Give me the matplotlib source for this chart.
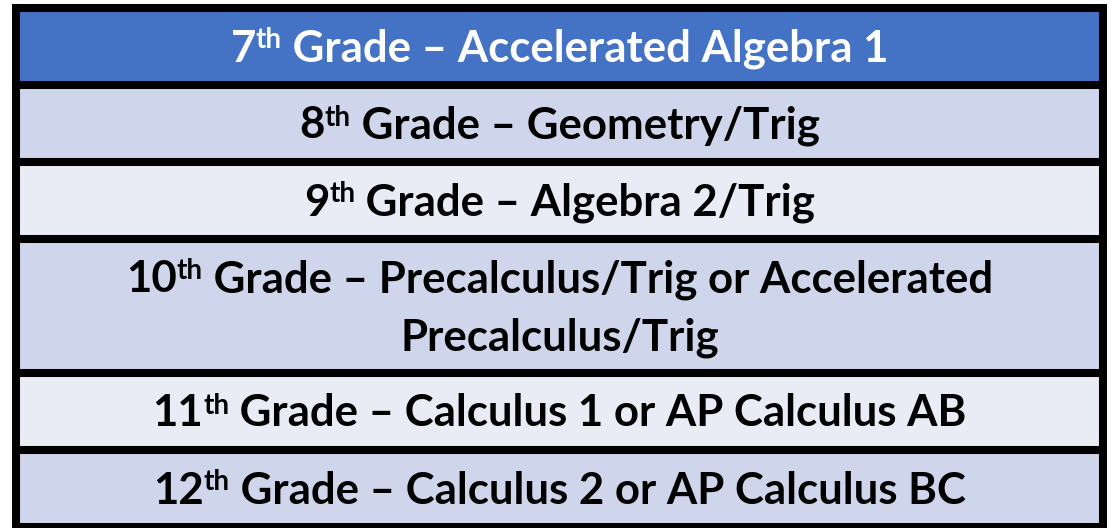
import matplotlib
matplotlib.use("Agg")
import matplotlib.pyplot as plt
from matplotlib.patches import Rectangle

# table content
grades = ["7", "8", "9", "10", "11", "12"]
courses = [
    ["Accelerated Algebra 1"],
    ["Geometry/Trig"],
    ["Algebra 2/Trig"],
    ["Precalculus/Trig or Accelerated", "Precalculus/Trig"],
    ["Calculus 1 or AP Calculus AB"],
    ["Calculus 2 or AP Calculus BC"],
]
fill_colors = ["#4472C4", "#CFD5EA", "#E9EBF5", "#CFD5EA", "#E9EBF5", "#CFD5EA"]
text_colors = ["white", "black", "black", "black", "black", "black"]

W, H = 1119, 528
fig = plt.figure(figsize=(W / 100, H / 100), dpi=100)
ax = fig.add_axes([0, 0, 1, 1])
ax.set_xlim(0, W)
ax.set_ylim(H, 0)
ax.axis("off")

left, right, top = 16, 1103, 8
line_h = 77
extra_line = 57
font = "Lato"
size = 31.5
sup_size = 20
cap = 30
line_gap = 58
border = 5.8

renderer = fig.canvas.get_renderer()


def draw_line(pieces, xc, base, color):
    # pieces: (text, fontsize, raise in px)
    items = []
    total = 0
    for s, fs, dy in pieces:
        t = ax.text(0, base - dy, s, fontsize=fs, fontweight="bold", family=font,
                    color=color, ha="left", va="baseline")
        w = t.get_window_extent(renderer).width
        items.append((t, w))
        total += w
    x = xc - total / 2
    for t, w in items:
        t.set_x(x)
        x += w


y = top
bounds = [y]
for i, g in enumerate(grades):
    n = len(courses[i])
    h = line_h + extra_line * (n - 1)
    ax.add_patch(Rectangle((left, y), right - left, h, facecolor=fill_colors[i],
                           edgecolor="none", zorder=0))
    yc = y + h / 2
    first_base = yc + cap / 2 - line_gap * (n - 1) / 2
    for k, line in enumerate(courses[i]):
        base = first_base + k * line_gap
        if k == 0:
            pieces = [(g, size, 0), ("th", sup_size, 13), (" Grade \u2013 " + line, size, 0)]
        else:
            pieces = [(line, size, 0)]
        draw_line(pieces, (left + right) / 2, base, text_colors[i])
    y += h
    bounds.append(y)

for b in bounds:
    ax.plot([left - 4, right + 4], [b, b], color="black", lw=border, solid_capstyle="butt", zorder=3)
for x in [left, right]:
    ax.plot([x, x], [top - 4, bounds[-1] + 4], color="black", lw=border, solid_capstyle="butt", zorder=3)

fig.savefig("out.png", dpi=100, facecolor="white")
